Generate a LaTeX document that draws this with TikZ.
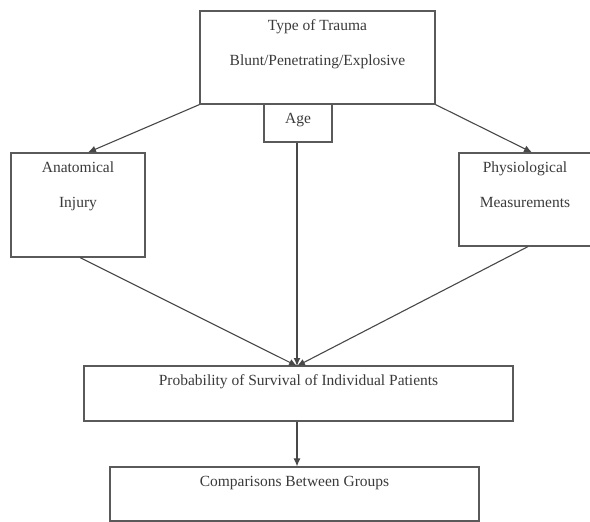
\documentclass[tikz,border=0pt]{standalone}
\usepackage{fontspec}
\setmainfont{Liberation Serif}
\usetikzlibrary{positioning, arrows.meta}
\definecolor{boxgray}{HTML}{5A5A5A}
\definecolor{textgray}{HTML}{3A3A3A}

\begin{document}
\begin{tikzpicture}[x=1pt, y=-1pt,
    box/.style={draw=boxgray, line width=1.2pt, inner sep=0pt},
    txt/.style={inner sep=0pt, align=center, text=textgray,
        font=\fontsize{15.5}{35}\selectfont},
    arr/.style={draw=boxgray!80!black, line width=1.1pt, -{Latex[length=8pt,width=7pt]}}]
    \useasboundingbox (0,0) rectangle (590,522);
    % boxes
    \node[box, minimum width=235pt, minimum height=93pt] (trauma) at (317.5,57.5) {};
    \node[box, minimum width=68pt, minimum height=38pt] (age) at (298,123) {};
    \node[box, minimum width=134pt, minimum height=104pt] (anat) at (78,205) {};
    \node[box, minimum width=132pt, minimum height=93pt] (phys) at (525,199.5) {};
    \node[box, minimum width=429pt, minimum height=55pt] (prob) at (298.5,393.5) {};
    \node[box, minimum width=369pt, minimum height=54pt] (comp) at (294.5,494) {};
    % texts
    \node[txt, below=9pt of trauma.north] (traumatxt) {Type of Trauma\\Blunt/Penetrating/Explosive};
    \node[txt, below=10pt of age.north] (agetxt) {Age};
    \node[txt, below=9pt of anat.north] (anattxt) {Anatomical\\Injury};
    \node[txt, below=9pt of phys.north] (phystxt) {Physiological\\Measurements};
    \node[txt, below=9pt of prob.north] (probtxt) {Probability of Survival of Individual Patients};
    \node[txt, below=10pt of comp.north] (comptxt) {Comparisons Between Groups};
    % connectors
    \coordinate (meet) at (297,366);
    \draw[arr] (trauma.south west) -- ([xshift=10pt]anat.north);
    \draw[arr] (trauma.south east) -- ([xshift=7pt]phys.north);
    \draw[arr] (age.south -| meet) -- (meet);
    \draw[arr] ([xshift=2pt]anat.south) -- (meet);
    \draw[arr] ([xshift=3pt]phys.south) -- (meet);
    \draw[arr] (prob.south -| meet) -- (comp.north -| meet);
\end{tikzpicture}
\end{document}
